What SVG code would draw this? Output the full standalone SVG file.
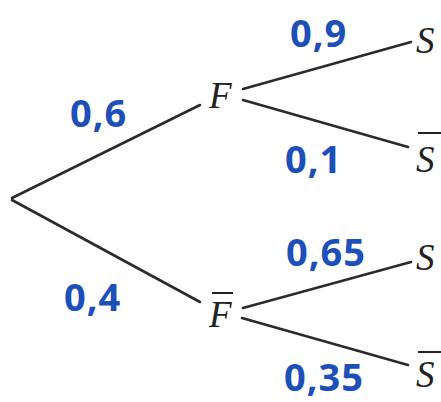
<svg xmlns="http://www.w3.org/2000/svg" width="441" height="402" viewBox="0 0 441 402">
<style>
.edge{stroke:#2b2b2b;stroke-width:2.6;stroke-linecap:round;fill:none}
.node{font-family:"Liberation Serif",serif;font-style:italic;font-size:37px;fill:#222}
.bar{stroke:#222;stroke-width:2}
.p{font-family:"Noto Sans","Liberation Sans",sans-serif;font-weight:bold;font-size:38px;fill:#1c4fb8;letter-spacing:1px}
</style>
<rect width="441" height="402" fill="#fff"/>
<g id="connectors">
<line class="edge" x1="12" y1="198" x2="200" y2="105"/>
<line class="edge" x1="12" y1="200" x2="200" y2="302"/>
<line class="edge" x1="243" y1="89" x2="411" y2="42"/>
<line class="edge" x1="243" y1="100" x2="408" y2="147"/>
<line class="edge" x1="243" y1="308" x2="411" y2="262"/>
<line class="edge" x1="242" y1="318" x2="408" y2="365"/>
</g>
<g id="labels">
<text class="p" x="70" y="127">0,6</text>
<text class="p" x="290" y="47">0,9</text>
<text class="p" x="285" y="173">0,1</text>
<text class="p" x="64" y="311">0,4</text>
<text class="p" x="286" y="266">0,65</text>
<text class="p" x="284" y="391">0,35</text>
</g>
<g id="node-F"><text class="node" x="209" y="108">F</text></g>
<g id="node-Fbar"><line class="bar" x1="212" y1="293" x2="233" y2="293"/><text class="node" x="209" y="327">F</text></g>
<g id="node-S1"><text class="node" x="416" y="53">S</text></g>
<g id="node-S1bar"><line class="bar" x1="418" y1="133" x2="441" y2="133"/><text class="node" x="416" y="172">S</text></g>
<g id="node-S2"><text class="node" x="416" y="270">S</text></g>
<g id="node-S2bar"><line class="bar" x1="418" y1="352" x2="441" y2="352"/><text class="node" x="416" y="387">S</text></g>
</svg>
